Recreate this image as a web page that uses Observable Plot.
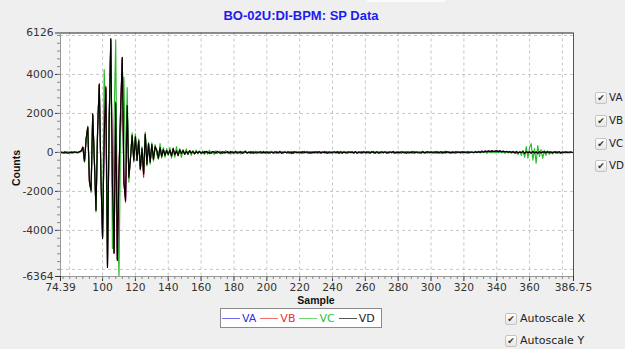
<!DOCTYPE html>
<html>
<head>
<meta charset="utf-8">
<script src="https://cdn.jsdelivr.net/npm/d3@7"></script>
<script src="https://cdn.jsdelivr.net/npm/@observablehq/plot@0.6"></script>
<style>
  html, body { margin: 0; padding: 0; background: #efefef; }
  #wrap { position: relative; width: 625px; height: 349px; overflow: hidden; background: #efefef; font-family: "DejaVu Sans", sans-serif; }
  #chart { position: absolute; left: 0; top: 0; }
  .abs { position: absolute; white-space: nowrap; }
  .title { left: 0; width: 602px; top: 8px; text-align: center; font: bold 13px "Liberation Sans", Arial, sans-serif; color: #1c1cf0; line-height: 16px; }
  .axlab { font: bold 10.5px "Liberation Sans", Arial, sans-serif; color: #111; line-height: 12px; }
  .legend { left: 220px; top: 308px; width: 160px; height: 18px; background: #fff; border: 1px solid #8a8a8a; display: flex; align-items: center; font-size: 11px; }
  .legend .it { display: flex; align-items: center; margin-left: 1px; margin-right: 3px; }
  .legend .ln { width: 18px; height: 0; border-top: 1px solid; margin-right: 2px; }
  .cb { width: 10px; height: 10px; border: 1px solid #c4c4c4; border-radius: 2px; background: linear-gradient(#ffffff, #e6e6e6); font-size: 9px; line-height: 10px; text-align: center; color: #333; }
  .cbl { font-size: 11px; color: #222; line-height: 13px; }
</style>
</head>
<body>
<div id="wrap">
  <div class="abs" style="left:367px;top:0;width:78px;height:2px;background:#fafafa"></div>
  <div id="chart"></div>
  <div class="abs title" id="title"></div>
  <div class="abs axlab" id="ylab" style="left:16px;top:168px;transform:translate(-50%,-50%) rotate(-90deg);"></div>
  <div class="abs axlab" id="xlab" style="left:316px;top:300px;transform:translate(-50%,-50%);"></div>
  <div class="abs legend" id="legend"></div>
  <div id="checks"></div>
</div>
<script>
const titleText = "BO-02U:DI-BPM: SP Data";
const xLabel = "Sample";
const yLabel = "Counts";
const seriesNames = ["VA", "VB", "VC", "VD"];
const lineColors = ["#0a0ae6", "#ee1111", "#2eb82e", "#000000"];
const legendLineColors = ["#7070ee", "#f07070", "#70d870", "#555555"];
const legendTextColors = ["#3030e0", "#ee3030", "#30c030", "#222222"];
const sampleStart = 75;
const xDomain = [74.39, 386.75];
const yDomain = [-6364, 6126];
const xTickValues = [74.39, 100, 120, 140, 160, 180, 200, 220, 240, 260, 280, 300, 320, 340, 360, 386.75];
const xGridValues = [80, 100, 120, 140, 160, 180, 200, 220, 240, 260, 280, 300, 320, 340, 360, 380];
const yTickValues = [-6364, -4000, -2000, 0, 2000, 4000, 6126];
const yGridValues = [-6000, -4000, -2000, 0, 2000, 4000, 6000];
const checkLabels = ["VA", "VB", "VC", "VD"];
const autoLabels = ["Autoscale X", "Autoscale Y"];

const VA = [
  -20,10,-40,20,0,-30,30,-10,0,20,-20,30,60,
  250,-420,680,1250,-1450,-1900,1900,-420,-2900,1150,3450,-1150,-4350,1000,3250,-5800,1450,5750,-1700,-5100,
  2600,-5450,-1200,2100,4800,-1600,-2400,2350,-1200,-320,850,-380,780,-420,580,-820,220,-1080,900,-580,
  430,-480,380,-330,280,120,-280,230,-180,140,-130,90,-90,
  100,-160,180,-100,70,-130,110,-50,90,-80,50,-70,80,-30,50,-60,30,-20,40,-30,
  -20,50,-10,40,-60,30,0,-40,60,-20,30,10,-50,40,-10,20,-40,60,-30,0,
  20,-50,40,-10,30,-30,60,-20,-10,40,-40,20,30,-50,10,20,-30,50,-40,10,
  30,-20,50,-40,10,20,-30,60,-10,-30,40,-20,10,30,-60,20,0,40,-30,10,
  20,-40,50,-10,-20,30,-50,40,10,-20,40,-30,20,-10,50,-40,10,20,-30,40,
  -20,10,50,-30,20,-50,40,-10,30,-20,10,40,-40,20,-10,30,-30,50,-20,10,
  40,-30,20,-10,50,-40,10,20,-30,40,-20,10,30,-40,20,-10,50,-30,0,30,
  10,-40,40,-20,30,-10,-20,50,-30,10,40,-30,20,-10,60,-40,20,30,-20,40,
  -10,30,-40,50,-20,10,30,-30,60,-10,20,-40,40,10,-30,50,-10,30,-20,40,
  20,-30,50,0,40,-10,50,10,60,20,70,30,80,40,90,50,80,60,70,80,
  60,90,40,70,30,60,20,50,10,60,-10,50,-10,40,0,30,-20,50,-10,40,
  -20,30,-40,40,-10,20,-30,50,-20,30,0,40,-30,20,-10,50,-20,30,-40,20,
  10,-20,40,-10,30,0
];
const VB = [
  30,-10,40,-30,20,0,-20,40,-10,10,-30,20,90,
  290,-480,720,1320,-1550,-2000,2000,-380,-2950,1250,3480,-1250,-4380,850,3400,-5850,1550,5800,-1450,-5150,
  2450,-5500,-950,2250,4850,-1450,-2550,2450,-1350,-280,900,-420,830,-380,620,-880,180,-1270,960,-620,
  470,-520,420,-370,320,80,-320,270,-220,160,-170,110,-110,
  140,-200,220,-140,90,-170,150,-70,110,-100,70,-90,100,-50,70,-80,50,-40,60,-50,
  40,-30,20,-50,30,10,-20,40,-40,20,-10,50,-30,10,30,-20,40,-40,10,20,
  -30,40,-20,50,-40,10,20,-30,40,-10,-20,50,-30,20,0,-40,40,-20,30,-10,
  20,-40,30,10,-30,50,-20,-10,40,-30,20,0,-40,30,-10,50,-30,20,10,-30,
  40,-20,0,50,-40,20,10,-30,40,-10,-20,30,-40,50,-20,10,30,-40,20,-10,
  30,-30,10,40,-20,-10,50,-40,20,-10,40,-30,10,30,-40,20,0,-30,50,-20,
  -10,40,-40,30,-20,10,40,-20,-30,50,-10,20,-40,30,-10,40,-20,-10,30,-40,
  30,-10,20,-40,40,-20,-10,30,-30,50,-20,10,-30,40,-10,-20,50,-30,20,-10,
  30,-20,10,40,-40,20,-10,30,-30,10,40,-20,-10,30,-40,20,10,-30,40,-20,
  10,-30,40,-10,30,0,40,10,50,20,60,30,70,40,70,40,80,50,60,70,
  40,70,30,50,20,40,0,40,-10,20,-30,30,-20,10,-20,40,-40,30,-10,20,
  -30,40,-20,10,-40,30,-10,20,-30,40,-20,10,30,-30,20,-10,40,-20,10,-30,
  20,-10,30,-20,0,10
];
const VC = [
  10,-20,0,30,-20,20,-30,10,-10,30,0,50,100,
  250,-500,650,1350,-1400,-2050,1900,-300,-3050,1400,3400,-1000,-4300,4250,1000,-5700,1800,5600,-4930,1500,
  5770,-3500,-6364,1000,2500,3860,-1200,3330,-1530,-200,1000,-500,950,-300,700,-900,300,-1000,1050,-700,
  500,-600,500,-450,400,-100,-350,450,-300,250,-250,200,-150,
  250,-300,200,-250,300,-150,200,-250,150,-100,180,-120,100,-150,80,-60,120,-80,60,-40,
  80,-100,60,-90,120,-60,40,-110,90,-50,70,-80,30,-60,100,-40,50,-90,60,-30,
  70,-60,40,-80,50,-30,90,-50,20,-60,40,-30,60,-70,30,-20,50,-40,20,-50,
  40,-30,60,-50,20,-40,30,-20,50,-60,30,-10,40,-30,20,-50,30,-20,40,-10,
  -30,50,-20,30,-40,20,-10,40,-50,30,-20,10,-40,30,-20,50,-30,10,-20,40,
  -10,30,-50,20,-30,40,-20,10,-40,30,-10,50,-30,20,-20,10,-40,30,-10,20,
  -40,30,-20,50,-30,10,-20,40,-10,-30,30,-20,40,-50,10,30,-30,20,-40,10,
  30,-20,40,-30,10,-40,30,-10,20,-30,50,-20,10,-40,20,-10,30,-30,40,-20,
  10,-30,40,-20,30,-50,10,30,-20,40,-30,10,-20,40,-40,20,-10,30,-30,10,
  20,-40,30,-10,40,-20,30,0,20,-30,40,-10,20,-40,30,0,-20,40,-30,10,
  -10,30,-20,10,-40,20,-30,10,-50,20,-60,-40,-100,60,-150,100,-250,300,-300,250,
  450,-400,200,-550,350,-200,150,-300,100,-150,80,-100,60,-80,40,-50,30,-40,20,-30,
  10,-20,30,-10,20,0
];
const VD = [
  0,-30,20,-10,-40,10,0,-20,30,-10,10,40,80,
  270,-450,700,1290,-1500,-1950,1950,-400,-2980,1200,3520,-1200,-4420,800,3330,-5900,1500,5840,-1500,-5180,
  2500,-5540,-1000,2200,4880,-1500,-2470,2400,-1270,-300,870,-400,800,-400,600,-850,200,-1100,930,-600,
  450,-500,400,-350,300,100,-300,250,-200,150,-150,100,-100,
  120,-180,200,-120,80,-150,130,-60,100,-90,60,-80,90,-40,60,-70,40,-30,50,-40,
  30,-40,60,-20,10,-50,40,20,-30,50,-10,-40,30,0,-20,40,-30,10,20,-40,
  50,-20,-10,30,-50,20,40,-30,10,-20,30,-40,0,20,-10,40,-30,10,-20,30,
  -40,20,10,-30,40,-20,0,30,-50,20,10,-10,30,-30,20,-40,40,-10,0,20,
  -30,40,-20,10,30,-40,20,-10,0,30,-20,40,-30,10,-10,20,-40,30,0,-20,
  30,-10,20,-40,40,-20,10,0,-30,30,-10,20,-20,40,-40,10,20,-30,30,-10,
  0,20,-30,40,-10,-20,30,-40,20,10,-10,30,-30,0,20,-20,40,-30,10,0,
  -20,30,-10,20,-40,30,0,-20,40,-30,10,20,-10,-30,30,0,-20,40,-10,20,
  -30,10,30,-20,0,40,-40,20,-10,30,-20,10,0,-30,40,-10,20,-20,30,0,
  -10,40,-30,20,10,-20,30,-10,40,0,50,10,60,20,70,30,80,40,60,70,
  40,70,30,60,20,50,10,40,0,30,-20,40,-30,20,-10,60,-60,40,-20,30,
  -40,50,-30,20,-50,40,-20,10,30,-20,40,-10,20,-30,30,0,-20,40,-30,20,
  -10,30,-20,10,20,-10
];

const seriesValues = [VA, VB, VC, VD];
const lineMarks = seriesValues.map((vals, k) =>
  Plot.line(vals.map((v, i) => ({x: sampleStart + i, y: v})), {x: "x", y: "y", stroke: lineColors[k], strokeWidth: 1.15})
);

const xMinor = d3.range(76, 386, 4);
const yMinor = d3.range(-6000, 6001, 400);

const plot = Plot.plot({
  width: 625,
  height: 349,
  marginLeft: 60,
  marginRight: 52,
  marginTop: 32.5,
  marginBottom: 73,
  style: {background: "transparent", fontFamily: "DejaVu Sans, sans-serif", fontSize: "10.7px", color: "#222"},
  x: {domain: xDomain},
  y: {domain: yDomain},
  marks: [
    Plot.frame({fill: "white", stroke: null}),
    Plot.ruleX(xGridValues, {stroke: "#c6c6c6", strokeDasharray: "3,3"}),
    Plot.ruleY(yGridValues, {stroke: "#c6c6c6", strokeDasharray: "3,3"}),
    ...lineMarks,
    Plot.ruleY([yDomain[1]], {stroke: "#222", strokeWidth: 1.2}),
    Plot.ruleX([xDomain[1]], {stroke: "#555"}),
    Plot.ruleX([xDomain[0]], {stroke: "#999"}),
    Plot.ruleY([yDomain[0]], {stroke: "#999"}),
    Plot.axisX(xTickValues, {tickSize: 5, tickPadding: 2, tickFormat: d => String(d), label: null, color: "#333"}),
    Plot.axisX(xMinor, {tickSize: 3, tickFormat: () => "", label: null, stroke: "#888"}),
    Plot.axisY(yTickValues, {tickSize: 5, tickPadding: 2, tickFormat: d => String(d), label: null, color: "#333"}),
    Plot.axisY(yMinor, {tickSize: 3, tickFormat: () => "", label: null, stroke: "#888"})
  ]
});
document.getElementById("chart").appendChild(plot);

document.getElementById("title").textContent = titleText;
document.getElementById("xlab").textContent = xLabel;
document.getElementById("ylab").textContent = yLabel;

const legend = document.getElementById("legend");
seriesNames.forEach((name, k) => {
  const it = document.createElement("div");
  it.className = "it";
  const ln = document.createElement("div");
  ln.className = "ln";
  ln.style.borderTopColor = legendLineColors[k];
  const tx = document.createElement("span");
  tx.textContent = name;
  tx.style.color = legendTextColors[k];
  it.appendChild(ln);
  it.appendChild(tx);
  legend.appendChild(it);
});

const checks = document.getElementById("checks");
function addCheck(x, cy, label, gap, size) {
  const b = document.createElement("div");
  b.className = "abs cb";
  b.style.left = x + "px";
  b.style.top = (cy - 6) + "px";
  b.textContent = "\u2714";
  const t = document.createElement("div");
  t.className = "abs cbl";
  t.style.left = (x + gap) + "px";
  t.style.top = (cy - 7) + "px";
  t.style.fontSize = size + "px";
  t.textContent = label;
  checks.appendChild(b);
  checks.appendChild(t);
}
const rightYs = [98, 121, 144, 166];
checkLabels.forEach((l, k) => addCheck(595, rightYs[k], l, 14, 10.3));
addCheck(505, 319, autoLabels[0], 15, 11);
addCheck(505, 341, autoLabels[1], 15, 11);
</script>
</body>
</html>
